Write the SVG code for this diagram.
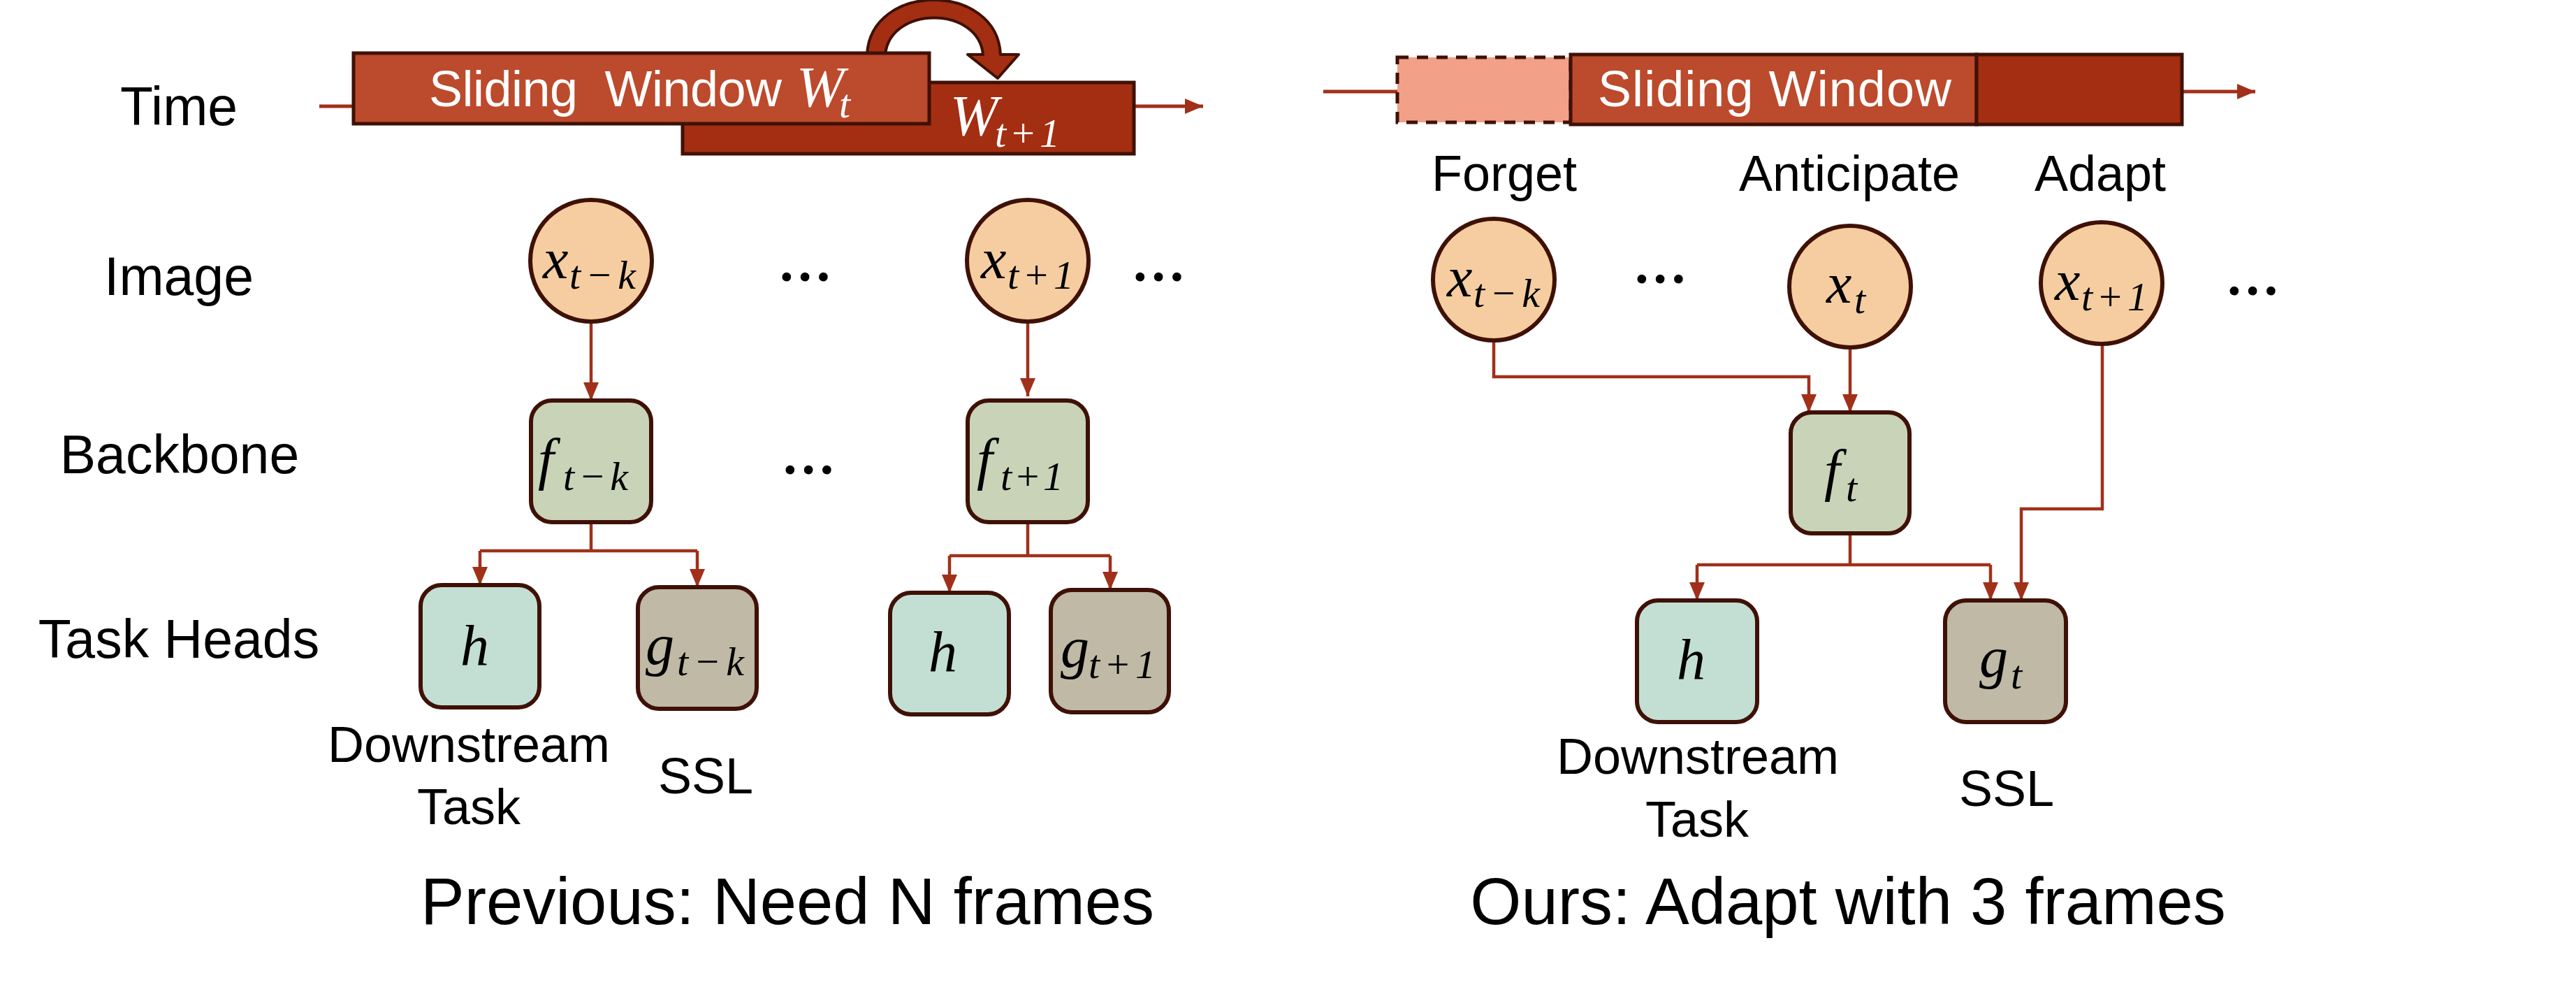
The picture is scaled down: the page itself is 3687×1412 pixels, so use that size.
<svg xmlns="http://www.w3.org/2000/svg" width="3687" height="1412" viewBox="0 0 3687 1412">
<defs>
<style>
.lbl{font-family:"Liberation Sans",Arial,sans-serif;font-size:77px;fill:#000;text-anchor:middle}
.sub{font-family:"Liberation Sans",Arial,sans-serif;font-size:72px;fill:#000;text-anchor:middle}
.cap{font-family:"Liberation Sans",Arial,sans-serif;font-size:94px;fill:#000;text-anchor:middle}
.win{font-family:"Liberation Sans",Arial,sans-serif;font-size:72px;fill:#fff}
.m{font-family:"Liberation Serif","Times New Roman",serif;font-style:italic;font-size:82px;fill:#000}
.ms{font-family:"Liberation Serif","Times New Roman",serif;font-style:italic;font-size:58px;fill:#000}
.mw{font-family:"Liberation Serif","Times New Roman",serif;font-style:italic;font-size:82px;fill:#fff}
.mws{font-family:"Liberation Serif","Times New Roman",serif;font-style:italic;font-size:58px;fill:#fff}
.dots{font-family:"Liberation Serif","Times New Roman",serif;font-size:78px;font-weight:bold;fill:#000;text-anchor:middle}
.img{fill:#F5CDA0;stroke:#3F1106;stroke-width:6}
.bb{fill:#C9D3B8;stroke:#3F1106;stroke-width:6}
.hh{fill:#C3DFD4;stroke:#3F1106;stroke-width:6}
.gg{fill:#BFB9A5;stroke:#3F1106;stroke-width:6}
.con{fill:none;stroke:#A0301A;stroke-width:4.5}
.arr{fill:none;stroke:#A0301A;stroke-width:4.5;marker-end:url(#ah)}
.tl{fill:none;stroke:#A0301A;stroke-width:5;marker-end:url(#ah)}
</style>
<marker id="ah" markerUnits="userSpaceOnUse" markerWidth="26" markerHeight="24" viewBox="0 0 26 24" refX="26" refY="12" orient="auto">
<path d="M0,1 L26,12 L0,23 z" fill="#A0301A"/>
</marker>
</defs>
<rect width="3687" height="1412" fill="#fff"/>

<!-- Row labels -->
<g id="row-labels">
<text class="lbl" x="256" y="179">Time</text>
<text class="lbl" x="256" y="422">Image</text>
<text class="lbl" x="257" y="677">Backbone</text>
<text class="lbl" x="256" y="941">Task Heads</text>
</g>

<!-- Connectors -->
<g id="connectors">
<line class="tl" x1="457" y1="152" x2="1722" y2="152"/>
<line class="tl" x1="1894" y1="131" x2="3228" y2="131"/>
<!-- left panel -->
<line class="arr" x1="846" y1="460" x2="846" y2="573"/>
<line class="arr" x1="1471" y1="460" x2="1471" y2="567"/>
<polyline class="con" points="846,747 846,788"/>
<polyline class="con" points="687,788 998,788"/>
<line class="arr" x1="687" y1="788" x2="687" y2="837"/>
<line class="arr" x1="998" y1="788" x2="998" y2="840"/>
<polyline class="con" points="1471,747 1471,795"/>
<polyline class="con" points="1359,795 1589,795"/>
<line class="arr" x1="1359" y1="795" x2="1359" y2="848"/>
<line class="arr" x1="1589" y1="795" x2="1589" y2="844"/>
<!-- right panel -->
<polyline class="arr" points="2138,487 2138,539 2589,539 2589,590"/>
<line class="arr" x1="2648" y1="497" x2="2648" y2="590"/>
<polyline class="con" points="2648,763 2648,808"/>
<polyline class="con" points="2429,808 2849,808"/>
<line class="arr" x1="2429" y1="808" x2="2429" y2="859"/>
<line class="arr" x1="2849" y1="808" x2="2849" y2="859"/>
<polyline class="arr" points="3009,492 3009,728 2893,728 2893,859"/>
</g>

<!-- Left timeline -->
<g id="window-t1">
<rect x="977" y="118" width="646" height="102" fill="#A32E12" stroke="#3F1106" stroke-width="5"/>
<text class="mw" x="1360" y="193">W</text>
<text class="mws" x="1424" y="210" textLength="93" lengthAdjust="spacing">t+1</text>
</g>
<g id="slide-arrow">
<path d="M1241,90 L1241,78 C1246,-26 1427,-26 1432,78 L1458,78 L1428,112 L1385,78 L1407,78 C1400,8 1274,8 1267,78 L1267,90 Z" fill="#A32E12" stroke="#3F1106" stroke-width="4" stroke-linejoin="round"/>
</g>
<g id="window-t">
<rect x="506" y="76" width="824" height="101" fill="#BC4A2C" stroke="#3F1106" stroke-width="5"/>
<text class="win" x="614" y="152" textLength="505" lengthAdjust="spacing">Sliding&#160; Window</text>
<text class="mw" x="1140" y="152">W</text>
<text class="mws" x="1201" y="168">t</text>
</g>

<!-- Right timeline -->
<g id="window-right">
<rect x="2000" y="82" width="248" height="93" fill="#F2A088" stroke="#3F1106" stroke-width="5" stroke-dasharray="16 12"/>
<rect x="2248" y="78" width="581" height="100" fill="#BC4A2C" stroke="#3F1106" stroke-width="5"/>
<rect x="2829" y="78" width="294" height="100" fill="#A32E12" stroke="#3F1106" stroke-width="5"/>
<text class="win" x="2287" y="152" textLength="506" lengthAdjust="spacing">Sliding Window</text>
</g>
<g id="phase-labels">
<text class="sub" x="2153" y="273">Forget</text>
<text class="sub" x="2647" y="273">Anticipate</text>
<text class="sub" x="3006" y="273">Adapt</text>
</g>

<!-- Left panel nodes -->
<g id="L-x-tk">
<circle class="img" cx="846" cy="373" r="87"/>
<text class="m" x="777" y="398">x</text>
<text class="ms" x="815" y="413" textLength="95" lengthAdjust="spacing">t−k</text>
</g>
<g id="L-x-t1">
<circle class="img" cx="1471" cy="373" r="87"/>
<text class="m" x="1404" y="398">x</text>
<text class="ms" x="1442" y="413" textLength="95" lengthAdjust="spacing">t+1</text>
</g>
<g id="L-dots">
<text class="dots" x="1152" y="402">…</text>
<text class="dots" x="1658" y="402">…</text>
<text class="dots" x="1157" y="678">…</text>
</g>
<g id="L-f-tk">
<rect class="bb" x="760" y="573" width="172" height="174" rx="30"/>
<text class="m" x="770" y="684">f</text>
<text class="ms" x="806" y="701" textLength="93" lengthAdjust="spacing">t−k</text>
</g>
<g id="L-f-t1">
<rect class="bb" x="1385" y="573" width="172" height="174" rx="30"/>
<text class="m" x="1398" y="684">f</text>
<text class="ms" x="1432" y="701" textLength="90" lengthAdjust="spacing">t+1</text>
</g>
<g id="L-h1">
<rect class="hh" x="602" y="837" width="170" height="175" rx="30"/>
<text class="m" x="659" y="951">h</text>
</g>
<g id="L-g-tk">
<rect class="gg" x="913" y="840" width="170" height="174" rx="30"/>
<text class="m" x="924" y="950">g</text>
<text class="ms" x="969" y="966" textLength="96" lengthAdjust="spacing">t−k</text>
</g>
<g id="L-h2">
<rect class="hh" x="1274" y="848" width="170" height="174" rx="30"/>
<text class="m" x="1329" y="960">h</text>
</g>
<g id="L-g-t1">
<rect class="gg" x="1504" y="844" width="169" height="175" rx="30"/>
<text class="m" x="1518" y="954">g</text>
<text class="ms" x="1558" y="970" textLength="96" lengthAdjust="spacing">t+1</text>
</g>
<g id="L-texts">
<text class="sub" x="671" y="1090">Downstream</text>
<text class="sub" x="671" y="1179">Task</text>
<text class="sub" x="1010" y="1135">SSL</text>
</g>

<!-- Right panel nodes -->
<g id="R-x-tk">
<circle class="img" cx="2138" cy="400" r="87"/>
<text class="m" x="2071" y="424">x</text>
<text class="ms" x="2109" y="439" textLength="95" lengthAdjust="spacing">t−k</text>
</g>
<g id="R-x-t">
<circle class="img" cx="2648" cy="410" r="87"/>
<text class="m" x="2614" y="433">x</text>
<text class="ms" x="2654" y="448">t</text>
</g>
<g id="R-x-t1">
<circle class="img" cx="3008" cy="405" r="87"/>
<text class="m" x="2941" y="429">x</text>
<text class="ms" x="2979" y="444" textLength="95" lengthAdjust="spacing">t+1</text>
</g>
<g id="R-dots">
<text class="dots" x="2376" y="405">…</text>
<text class="dots" x="3224" y="422">…</text>
</g>
<g id="R-f-t">
<rect class="bb" x="2563" y="590" width="170" height="173" rx="30"/>
<text class="m" x="2611" y="700">f</text>
<text class="ms" x="2642" y="717">t</text>
</g>
<g id="R-h">
<rect class="hh" x="2343" y="859" width="172" height="174" rx="30"/>
<text class="m" x="2400" y="971">h</text>
</g>
<g id="R-g-t">
<rect class="gg" x="2784" y="859" width="173" height="174" rx="30"/>
<text class="m" x="2833" y="968">g</text>
<text class="ms" x="2878" y="985">t</text>
</g>
<g id="R-texts">
<text class="sub" x="2430" y="1107">Downstream</text>
<text class="sub" x="2429" y="1197">Task</text>
<text class="sub" x="2872" y="1153">SSL</text>
</g>

<g id="captions">
<text class="cap" x="1127" y="1322">Previous: Need N frames</text>
<text class="cap" x="2645" y="1322">Ours: Adapt with 3 frames</text>
</g>
</svg>
